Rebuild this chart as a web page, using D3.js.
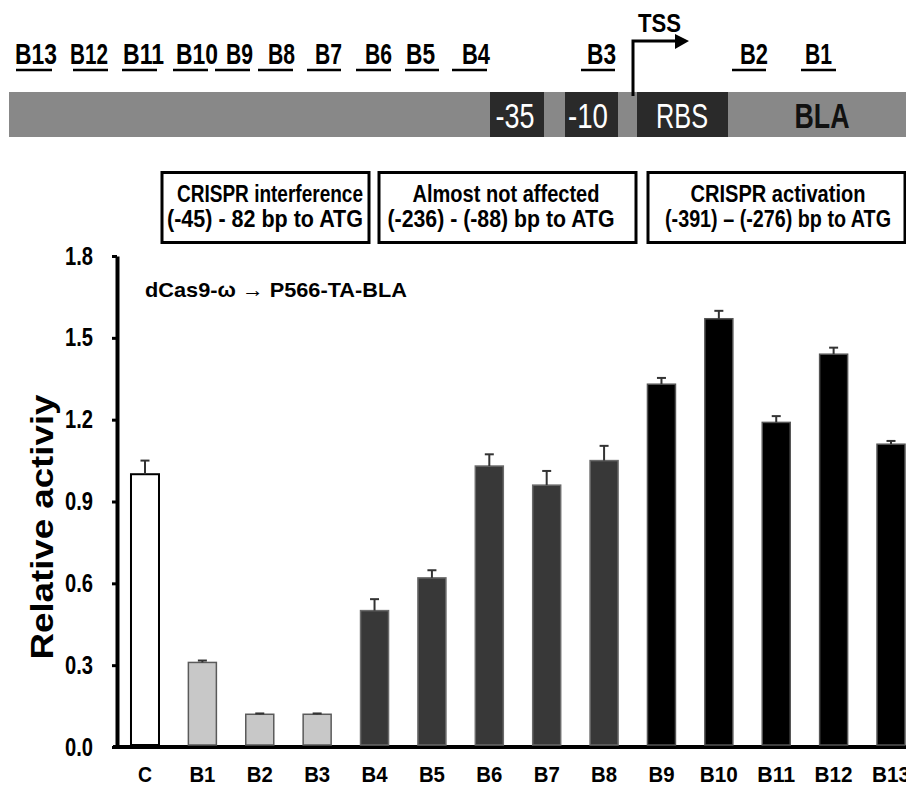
<!DOCTYPE html>
<html>
<head>
<meta charset="utf-8">
<script src="https://cdn.jsdelivr.net/npm/d3@7"></script>
<style>
  html, body { margin: 0; padding: 0; background: #fff; }
  svg { display: block; font-family: "Liberation Sans", Arial, sans-serif; }
</style>
</head>
<body>
<svg id="chart" width="906" height="788"></svg>
<script>
// ---------------- data ----------------
const categories = ["C", "B1", "B2", "B3", "B4", "B5", "B6", "B7", "B8", "B9", "B10", "B11", "B12", "B13"];
const values     = [1.00, 0.31, 0.12, 0.12, 0.50, 0.62, 1.03, 0.96, 1.05, 1.33, 1.57, 1.19, 1.44, 1.11];
const errors     = [0.05, 0.007, 0.003, 0.003, 0.042, 0.028, 0.043, 0.052, 0.054, 0.023, 0.029, 0.023, 0.024, 0.012];
const groups     = ["control", "interference", "interference", "interference",
                    "neutral", "neutral", "neutral", "neutral", "neutral",
                    "activation", "activation", "activation", "activation", "activation"];
const yTicks     = [0.0, 0.3, 0.6, 0.9, 1.2, 1.5, 1.8];
const yLabel     = "Relative activiy";
const subtitle   = "dCas9-ω → P566-TA-BLA";
const regionTitles = ["CRISPR interference", "Almost not affected", "CRISPR activation"];
const regionRanges = ["(-45) - 82 bp to ATG", "(-236) - (-88) bp to ATG", "(-391) – (-276) bp to ATG"];
const guideLabels  = ["B13", "B12", "B11", "B10", "B9", "B8", "B7", "B6", "B5", "B4", "B3", "B2", "B1"];
const elementLabels = ["-35", "-10", "RBS"];
const geneLabel = "BLA";
const tssLabel = "TSS";

// ---------------- styles ----------------
const fillColor   = { control: "#ffffff", interference: "#c8c8c8", neutral: "#383838", activation: "#000000" };
const strokeColor = { control: "#000000", interference: "#5a5a5a", neutral: "#6a6a6a", activation: "#555555" };

const svg = d3.select("#chart");

function txt(g, s, x, y, size, weight, anchor, width, fill) {
  const t = g.append("text")
    .attr("x", x).attr("y", y)
    .attr("font-size", size)
    .attr("font-weight", weight)
    .attr("text-anchor", anchor)
    .attr("fill", fill || "#000")
    .text(s);
  if (width) t.attr("textLength", width).attr("lengthAdjust", "spacingAndGlyphs");
  return t;
}

// ---------------- scales ----------------
const x = d3.scaleBand().domain(categories).range([116.3, 919.7]).paddingInner(0.512).paddingOuter(0.256);
const y = d3.scaleLinear().domain([0, 1.8]).range([747, 256]);

// ---------------- top promoter diagram ----------------
const diag = svg.append("g");
diag.append("rect").attr("x", 9).attr("y", 92).attr("width", 897).attr("height", 45).attr("fill", "#888888");
const elemBoxes = [[490, 54], [565, 53], [637, 91]];
const elemText = [[515, 39], [588, 40], [682, 52]];
elementLabels.forEach((s, i) => {
  diag.append("rect").attr("x", elemBoxes[i][0]).attr("y", 92).attr("width", elemBoxes[i][1]).attr("height", 45).attr("fill", "#2a2a2a");
  txt(diag, s, elemText[i][0], 128, 35, "normal", "middle", elemText[i][1], "#ffffff");
});
txt(diag, geneLabel, 822, 128, 35, "bold", "middle", 55, "#111111");

// TSS arrow
diag.append("path").attr("d", "M633,96 L633,41 L677,41").attr("fill", "none").attr("stroke", "#000").attr("stroke-width", 3);
diag.append("path").attr("d", "M675,34 L689,41 L675,49 Z").attr("fill", "#000");
txt(diag, tssLabel, 659.5, 32, 26, "bold", "middle", 43);

// guide labels with underlines
const guideText = [[15, 42], [70, 38], [123, 41], [176, 42], [226, 27], [268, 27], [315, 27], [365, 27], [406, 29], [462, 28], [587, 29], [740, 28], [805, 27]];
const guideLine = [[16, 52], [73, 108], [122, 157], [173, 208], [215, 250], [258, 293], [307, 341], [356, 391], [405, 439], [452, 487], [581, 615], [732, 766], [801, 836]];
guideLabels.forEach((s, i) => {
  txt(diag, s, guideText[i][0], 64, 29, "bold", "start", guideText[i][1]);
  diag.append("line").attr("x1", guideLine[i][0]).attr("x2", guideLine[i][1])
    .attr("y1", 70).attr("y2", 70).attr("stroke", "#000").attr("stroke-width", 2.5);
});

// ---------------- region boxes ----------------
const boxes = [[162, 369], [379, 636], [648, 905]];
const t1 = [[270, 186], [506, 187], [778, 175]];
const t2 = [[265, 196], [501, 227], [778, 226]];
regionTitles.forEach((s, i) => {
  svg.append("rect").attr("x", boxes[i][0]).attr("y", 172.5)
    .attr("width", boxes[i][1] - boxes[i][0]).attr("height", 70)
    .attr("fill", "none").attr("stroke", "#000").attr("stroke-width", 3);
  txt(svg, s, t1[i][0], 202, 24, "bold", "middle", t1[i][1]);
  txt(svg, regionRanges[i], t2[i][0], 227, 24, "bold", "middle", t2[i][1]);
});

// ---------------- axes ----------------
const yAxis = d3.axisLeft(y).tickValues(yTicks).tickFormat(d3.format(".1f")).tickSize(5).tickSizeOuter(0).tickPadding(19);
const gy = svg.append("g").attr("transform", "translate(117,0)").call(yAxis);
gy.select(".domain").attr("stroke", "#000").attr("stroke-width", 4);
gy.selectAll(".tick line").attr("stroke", "#000").attr("stroke-width", 3);
gy.selectAll(".tick text")
  .attr("font-size", 25).attr("font-weight", "bold").attr("fill", "#000")
  .attr("font-family", "Liberation Sans, Arial, sans-serif")
  .attr("textLength", 28).attr("lengthAdjust", "spacingAndGlyphs");

// x axis baseline
svg.append("line").attr("x1", 113).attr("x2", 906).attr("y1", y(0)).attr("y2", y(0))
  .attr("stroke", "#000").attr("stroke-width", 4);

// ---------------- bars ----------------
const bw = x.bandwidth();
const bars = svg.append("g");
bars.selectAll("rect.bar").data(categories).join("rect")
  .attr("class", "bar")
  .attr("x", d => x(d))
  .attr("y", (d, i) => y(values[i]))
  .attr("width", bw)
  .attr("height", (d, i) => y(0) - y(values[i]) - 2)
  .attr("fill", (d, i) => fillColor[groups[i]])
  .attr("stroke", (d, i) => strokeColor[groups[i]])
  .attr("stroke-width", (d, i) => groups[i] === "control" ? 2 : 1.5);

// error bars (upper only)
const eb = svg.append("g").attr("stroke", "#333").attr("stroke-width", 2);
categories.forEach((c, i) => {
  const cx = x(c) + bw / 2;
  eb.append("line").attr("x1", cx).attr("x2", cx).attr("y1", y(values[i])).attr("y2", y(values[i] + errors[i]));
  eb.append("line").attr("x1", cx - 4.5).attr("x2", cx + 4.5).attr("y1", y(values[i] + errors[i])).attr("y2", y(values[i] + errors[i]));
});

// x labels
const xLabelWidth = { 1: 14, 2: 26, 3: 38 };
categories.forEach(c => {
  txt(svg, c, x(c) + bw / 2, 782, 22, "bold", "middle", xLabelWidth[c.length]);
});

// y label
svg.append("text")
  .attr("transform", "translate(53,527) rotate(-90)")
  .attr("text-anchor", "middle")
  .attr("font-size", 32).attr("font-weight", "bold")
  .attr("textLength", 265).attr("lengthAdjust", "spacingAndGlyphs")
  .text(yLabel);

// subtitle
txt(svg, subtitle, 145, 297, 21, "bold", "start", 262);
</script>
</body>
</html>
